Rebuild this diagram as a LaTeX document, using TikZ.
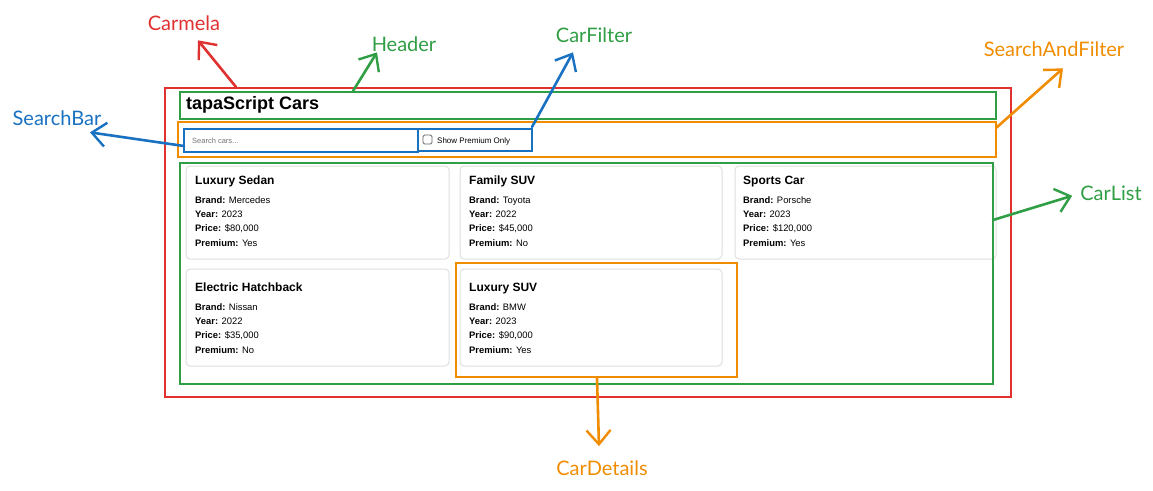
\documentclass[tikz,border=0pt]{standalone}
\usepackage{fontspec}
\setmainfont{Liberation Sans}
\newfontfamily\notefont{Lato}
\usetikzlibrary{arrows.meta}
\definecolor{notered}{HTML}{E03131}
\definecolor{notegreen}{HTML}{2F9E44}
\definecolor{noteblue}{HTML}{1971C2}
\definecolor{noteorange}{HTML}{F08C00}
\tikzset{
  note/.style={font=\notefont\fontsize{20}{24}\selectfont, inner sep=0pt, anchor=base},
  callout/.style={line width=2.6pt, line cap=round, -{Straight Barb[length=14pt,width=24pt,line width=2.4pt]}},
  part/.style={line width=2.2pt},
  card/.style={draw=black!13, line width=1pt, rounded corners=4pt},
  cardtitle/.style={font=\bfseries\fontsize{12}{14}\selectfont, inner sep=0pt, anchor=base west},
  cardtext/.style={font=\fontsize{9.4}{14.3}\selectfont, inner sep=0pt, anchor=north west, align=left}
}
\begin{document}
\begin{tikzpicture}[x=1pt,y=-1pt]
            \useasboundingbox (0,0) rectangle (1153,490);
            \coordinate (A) at (165,88);
            \coordinate (B) at (1011,397);
            \coordinate (H1) at (180,92);
            \coordinate (H2) at (996,119);
            \coordinate (S1) at (178,122);
            \coordinate (S2) at (996,157);
            \coordinate (Q1) at (184,129);
            \coordinate (Q2) at (418,152);
            \coordinate (F1) at (418,129);
            \coordinate (F2) at (532,151);
            \coordinate (L1) at (180,163);
            \coordinate (L2) at (993,384);
            \coordinate (D1) at (456,263);
            \coordinate (D2) at (737,377);
            
            \draw[card] (186,166) rectangle (449,259);
            \draw[card] (460,166) rectangle (722,259);
            \draw[card] (735,166) rectangle (996,259);
            \draw[card] (186,269) rectangle (449,366);
            \draw[card] (460,269) rectangle (722,366);
            
            \node[cardtitle] (T1) at (195,184) {Luxury Sedan};
            \node[cardtext] (C1) at (195,196.3) {\textbf{Brand:} Mercedes\\\textbf{Year:} 2023\\\textbf{Price:} \$80,000\\\textbf{Premium:} Yes};
            \node[cardtitle] (T2) at (469,184) {Family SUV};
            \node[cardtext] (C2) at (469,196.3) {\textbf{Brand:} Toyota\\\textbf{Year:} 2022\\\textbf{Price:} \$45,000\\\textbf{Premium:} No};
            \node[cardtitle] (T3) at (743,184) {Sports Car};
            \node[cardtext] (C3) at (743,196.3) {\textbf{Brand:} Porsche\\\textbf{Year:} 2023\\\textbf{Price:} \$120,000\\\textbf{Premium:} Yes};
            \node[cardtitle] (T4) at (195,291) {Electric Hatchback};
            \node[cardtext] (C4) at (195,303.3) {\textbf{Brand:} Nissan\\\textbf{Year:} 2022\\\textbf{Price:} \$35,000\\\textbf{Premium:} No};
            \node[cardtitle] (T5) at (469,291) {Luxury SUV};
            \node[cardtext] (C5) at (469,303.3) {\textbf{Brand:} BMW\\\textbf{Year:} 2023\\\textbf{Price:} \$90,000\\\textbf{Premium:} Yes};
            
            \node[font=\bfseries\fontsize{18}{22}\selectfont, inner sep=0pt, anchor=base west] (title) at (186,109) {tapaScript Cars};
            \node[font=\fontsize{7.5}{9}\selectfont, text=black!55, inner sep=0pt, anchor=base west] (ph) at (192,143) {Search cars...};
            \draw[black!60, line width=0.8pt, rounded corners=1.5pt] (423,135) rectangle (432,144);
            \node[font=\fontsize{8}{10}\selectfont, inner sep=0pt, anchor=base west] (premium) at (437,143) {Show Premium Only};
            
            \draw[part, notered] (A) rectangle (B);
            \draw[part, notegreen] (H1) rectangle (H2);
            \draw[part, noteorange] (S1) rectangle (S2);
            \draw[part, noteblue] (Q1) rectangle (Q2);
            \draw[part, noteblue] (F1) rectangle (F2);
            \draw[part, notegreen] (L1) rectangle (L2);
            \draw[part, noteorange] (D1) rectangle (D2);
            
            \node[note, text=notered] (carmela) at (184,30) {Carmela};
            \node[note, text=notegreen] (header) at (404,51) {Header};
            \node[note, text=notegreen] (carfilter) at (594,42) {CarFilter};
            \node[note, text=noteorange] (searchandfilter) at (1054,56) {SearchAndFilter};
            \node[note, text=noteblue] (searchbar) at (57,125) {SearchBar};
            \node[note, text=notegreen] (carlist) at (1111,200) {CarList};
            \node[note, text=noteorange] (cardetails) at (602,475) {CarDetails};
            
            \coordinate (redTop) at (236,87);
            \coordinate (headerTop) at (353,91);
            \coordinate (filterEdge) at (532,127);
            \coordinate (sfEdge) at (996,128);
            \coordinate (barEdge) at (184,146);
            \coordinate (listEdge) at (993,220);
            \coordinate (detailsEdge) at (597,378);
            
            \draw[callout, notered] (redTop) -- ([xshift=14pt,yshift=-10pt]carmela.south);
            \draw[callout, notegreen] (headerTop) -- ([xshift=-27pt,yshift=-1pt]header.south);
            \draw[callout, noteblue] (filterEdge) -- ([xshift=-21pt,yshift=-10pt]carfilter.south);
            \draw[callout, noteorange] (sfEdge) -- ([xshift=9pt,yshift=-12pt]searchandfilter.south);
            \draw[callout, noteblue] (barEdge) -- ([xshift=33pt,yshift=-7pt]searchbar.south);
            \draw[callout, notegreen] (listEdge) -- ([xshift=-8pt,yshift=-3pt]carlist.west);
            \draw[callout, noteorange] (detailsEdge) -- ([xshift=-3pt,yshift=14pt]cardetails.north);
          \end{tikzpicture}
\end{document}
